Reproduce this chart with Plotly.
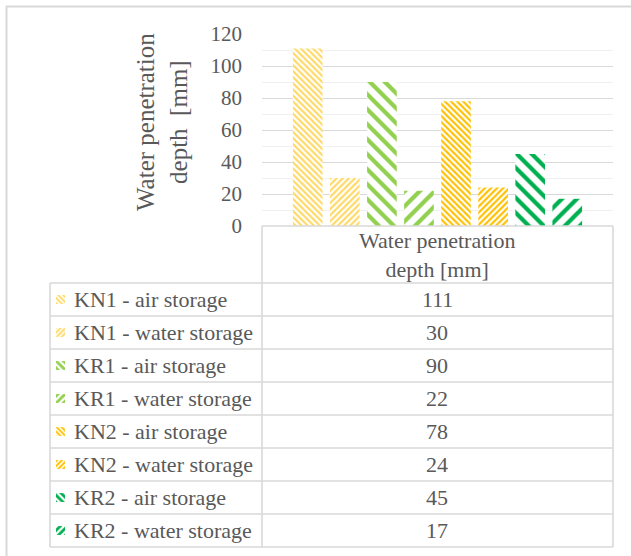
import plotly.graph_objects as go

# Series data
series = [
    "KN1 - air storage",
    "KN1 - water storage",
    "KR1 - air storage",
    "KR1 - water storage",
    "KN2 - air storage",
    "KN2 - water storage",
    "KR2 - air storage",
    "KR2 - water storage",
]
depth_mm = [111, 30, 90, 22, 78, 24, 45, 17]
category = "Water penetration depth [mm]"
y_ticks = [0, 20, 40, 60, 80, 100, 120]

# Styles per series
colors = ["#FFD966", "#FFD966", "#92D050", "#92D050",
          "#FFC000", "#FFC000", "#00B050", "#00B050"]
shapes = ["\\", "/", "\\", "/", "\\", "/", "\\", "/"]
sizes = [4.3, 4.3, 10.6, 10.6, 4.3, 4.3, 10.6, 10.6]
solid = [0.5, 0.5, 0.4, 0.4, 0.5, 0.5, 0.4, 0.4]

W, H = 631, 556
FONT = '"Liberation Serif", "Times New Roman", Times, serif'
TXT = "#595959"
LINE = "#D9D9D9"


def px(x):
    return x / W


def py(y):
    return 1 - y / H


def hatch(i, size, solidity):
    return dict(shape=shapes[i], fgcolor=colors[i], bgcolor="white", fgopacity=1,
                size=size, solidity=solidity, fillmode="replace")


fig = go.Figure()

# Main clustered bars
for i, name in enumerate(series):
    fig.add_trace(go.Bar(
        x=[category], y=[depth_mm[i]], name=name, showlegend=False,
        marker=dict(color=colors[i], line=dict(width=0),
                    pattern=hatch(i, sizes[i], solid[i])),
        xaxis="x", yaxis="y",
    ))

# Small legend keys inside the data table
for i, name in enumerate(series):
    fig.add_trace(go.Bar(
        y=[name], x=[1], orientation="h", showlegend=False, width=0.27,
        marker=dict(color=colors[i], line=dict(width=0),
                    pattern=hatch(i, 3.5 if sizes[i] < 6 else 5, 0.55)),
        xaxis="x2", yaxis="y2", hoverinfo="skip",
    ))

# Table geometry (pixels)
tab_left, col_div, tab_right = 50, 262, 613
head_top, head_bot = 226, 283
row_h = 33
n = len(series)
tab_bot = head_bot + row_h * n

shp = []


def hline(x0, x1, y, color=LINE, w=1.6):
    shp.append(dict(type="line", xref="paper", yref="paper",
                    x0=px(x0), x1=px(x1), y0=py(y), y1=py(y),
                    line=dict(color=color, width=w)))


def vline(x, y0, y1, color=LINE, w=1.6):
    shp.append(dict(type="line", xref="paper", yref="paper",
                    x0=px(x), x1=px(x), y0=py(y0), y1=py(y1),
                    line=dict(color=color, width=w)))


# chart frame
hline(6, W, 6.5, "#D9D9D9", 2)
vline(6.5, 6, H, "#D9D9D9", 2)

# header cell
hline(col_div, tab_right, head_top)
vline(col_div, head_top, tab_bot)
vline(tab_right, head_top, tab_bot)
# rows
for r in range(n + 1):
    hline(tab_left, tab_right, head_bot + r * row_h)
vline(tab_left, head_bot, tab_bot)

ann = []


def text(x, y, s, size, xanchor="center", angle=0):
    ann.append(dict(x=px(x), y=py(y), xref="paper", yref="paper", showarrow=False,
                    xanchor=xanchor, yanchor="middle", text=s, textangle=angle,
                    align="center", font=dict(family=FONT, size=size, color=TXT)))


# header text
text((col_div + tab_right) / 2, (head_top + head_bot) / 2 + 1,
     "Water penetration<br>depth [mm]", 22)
for i, name in enumerate(series):
    yc = head_bot + row_h * i + row_h / 2
    text(72, yc, name, 22, xanchor="left")
    text((col_div + tab_right) / 2, yc, str(depth_mm[i]), 22)

# y-axis title
text(162, 122, "Water penetration<br>depth  [mm]", 25, angle=-90)

fig.update_layout(
    width=W, height=H, autosize=False,
    margin=dict(l=0, r=0, t=0, b=0, autoexpand=False),
    paper_bgcolor="white", plot_bgcolor="white",
    barmode="group", bargap=0.155, bargroupgap=0.2,
    xaxis=dict(domain=[px(col_div), px(tab_right)], range=[-0.5, 0.5], automargin=False,
               showticklabels=False, showgrid=False, zeroline=False, fixedrange=True),
    yaxis=dict(domain=[py(226), py(34)], range=[0, 120], tickvals=y_ticks, automargin=False,
               showgrid=True, gridcolor="#D9D9D9", gridwidth=1.3,
               minor=dict(dtick=10, tick0=0, showgrid=True, gridcolor="#F0F0F0", gridwidth=1.3),
               zeroline=False, showline=False, ticks="", ticklabelstandoff=19,
               tickfont=dict(family=FONT, size=21, color=TXT)),
    xaxis2=dict(domain=[px(56), px(65)], range=[0, 1], anchor="y2", automargin=False,
                visible=False, fixedrange=True),
    yaxis2=dict(domain=[py(tab_bot), py(head_bot)], anchor="x2", automargin=False,
                categoryorder="array", categoryarray=series[::-1],
                range=[-0.5, n - 0.5], visible=False, fixedrange=True),
    shapes=shp, annotations=ann,
)

fig.write_html("out.html")
